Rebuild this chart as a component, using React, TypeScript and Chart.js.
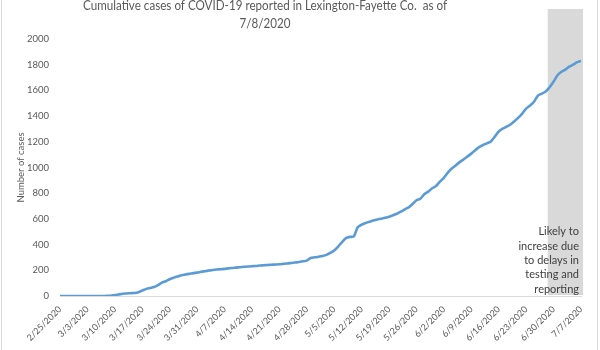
import React, { useEffect, useRef } from "react";
import { Chart, registerables } from "chart.js";

Chart.register(...registerables);

// ---- data ----
const START_DATE = { year: 2020, month: 2, day: 25 }; // first category: 2/25/2020
// cumulative cases, one value per day from 2/25/2020 to 7/7/2020 (rows = weeks)
const CASES: number[] = [
  0, 0, 0, 0, 0, 0, 0,
  0, 0, 0, 0, 0, 1, 1,
  8, 12, 18, 20, 22, 24, 30,
  42, 55, 62, 70, 85, 104, 115,
  130, 142, 152, 162, 168, 172, 178,
  182, 188, 193, 198, 203, 206, 208,
  211, 215, 218, 221, 224, 227, 230,
  232, 234, 237, 239, 241, 243, 245,
  247, 250, 253, 257, 261, 265, 270,
  275, 296, 301, 306, 312, 320, 335,
  355, 385, 420, 450, 460, 463, 535,
  555, 568, 578, 588, 595, 602, 609,
  617, 628, 640, 656, 674, 690, 716,
  745, 757, 792, 812, 838, 856, 890,
  920, 960, 992, 1015, 1042, 1062, 1085,
  1108, 1135, 1158, 1175, 1188, 1203, 1240,
  1280, 1302, 1318, 1335, 1360, 1388, 1420,
  1458, 1482, 1512, 1560, 1575, 1592, 1625,
  1668, 1718, 1745, 1762, 1785, 1800, 1820,
  1830,
];
const Y_MIN = 0;
const Y_MAX = 2000;
const Y_STEP = 200;
const LABEL_EVERY = 7;
const TITLE_LINES = [
  "Cumulative cases of COVID-19 reported in Lexington-Fayette Co.  as of",
  "7/8/2020",
];
const Y_TITLE = "Number of cases";
const NOTE_LINES = ["Likely to", "increase due", "to delays in", "testing and", "reporting"];
const SHADE_FROM = "6/29/2020";

function buildDates(n: number): string[] {
  const out: string[] = [];
  const dt = new Date(Date.UTC(START_DATE.year, START_DATE.month - 1, START_DATE.day));
  for (let i = 0; i < n; i++) {
    out.push(`${dt.getUTCMonth() + 1}/${dt.getUTCDate()}/${dt.getUTCFullYear()}`);
    dt.setUTCDate(dt.getUTCDate() + 1);
  }
  return out;
}
const DATES = buildDates(CASES.length);

const FONT = "Lato, 'Open Sans', sans-serif";
const TEXT = "#595959";

const overlayPlugin = {
  id: "overlay",
  beforeDatasetsDraw(chart: any) {
    const { ctx, chartArea, scales } = chart;
    const x = scales.x;
    const idx = DATES.indexOf(SHADE_FROM);
    const step = x.getPixelForValue(1) - x.getPixelForValue(0);
    const left = x.getPixelForValue(idx) - step * 0.5;
    const top = chartArea.top - 30;
    ctx.save();
    ctx.fillStyle = "#d9d9d9";
    ctx.fillRect(left, top, chartArea.right + 2 - left, chartArea.bottom - 1 - top);
    ctx.restore();
  },
  afterDraw(chart: any) {
    const { ctx, chartArea, width, height } = chart;
    ctx.save();
    // note
    ctx.fillStyle = "#404040";
    ctx.font = `11px ${FONT}`;
    ctx.textAlign = "right";
    ctx.textBaseline = "middle";
    const n = NOTE_LINES.length;
    NOTE_LINES.forEach((t, i) => {
      ctx.fillText(t, chartArea.right - 2, chartArea.bottom - 7 - (n - 1 - i) * 14.3);
    });
    // title (narrowed to the reference's width)
    ctx.fillStyle = TEXT;
    ctx.font = `14px ${FONT}`;
    ctx.textAlign = "center";
    const w0 = ctx.measureText(TITLE_LINES[0]).width;
    const ratio = Math.min(1, 364 / w0);
    TITLE_LINES.forEach((t, i) => {
      const w = ctx.measureText(t).width;
      ctx.fillText(t, 265, 5 + i * 18, w * ratio);
    });
    // frame
    ctx.strokeStyle = "#d9d9d9";
    ctx.lineWidth = 1;
    ctx.beginPath();
    ctx.moveTo(1.5, 0);
    ctx.lineTo(1.5, height);
    ctx.moveTo(width - 2.5, 0);
    ctx.lineTo(width - 2.5, height);
    ctx.stroke();
    ctx.restore();
  },
};

export default function App() {
  const ref = useRef<HTMLCanvasElement | null>(null);
  useEffect(() => {
    if (!ref.current) return;
    const chart = new Chart(ref.current, {
      type: "line",
      data: {
        labels: DATES,
        datasets: [
          {
            data: CASES,
            borderColor: "#5b9bd5",
            borderWidth: 2.6,
            pointRadius: 0,
            tension: 0.2,
            fill: false,
          },
        ],
      },
      options: {
        animation: false,
        responsive: false,
        layout: { padding: { top: 39, right: 19, bottom: 0, left: 0 } },
        plugins: {
          legend: { display: false },
          tooltip: { enabled: false },
          title: { display: false },
        },
        scales: {
          x: {
            type: "category",
            grid: { display: false, drawTicks: false },
            border: { display: true, color: "#d9d9d9", width: 1 },
            ticks: {
              autoSkip: false,
              minRotation: 45,
              maxRotation: 45,
              padding: 8,
              color: TEXT,
              font: { family: FONT, size: 9 },
              callback: (_v: any, i: number) => (i % LABEL_EVERY === 0 ? DATES[i] : null),
            },
            afterFit: (s: any) => {
              s.height = 54;
            },
          },
          y: {
            min: Y_MIN,
            max: Y_MAX,
            grid: { display: false, drawTicks: false },
            border: { display: false },
            ticks: {
              stepSize: Y_STEP,
              padding: 11,
              color: TEXT,
              font: { family: FONT, size: 9.5 },
              callback: (v: any) => String(v),
            },
            title: {
              display: true,
              text: Y_TITLE,
              color: TEXT,
              font: { family: FONT, size: 9.5 },
              padding: { top: 15, bottom: 0 },
            },
            afterFit: (s: any) => {
              s.width = 60;
            },
          },
        },
      },
      plugins: [overlayPlugin],
    });
    return () => chart.destroy();
  }, []);
  return (
    <div style={{ position: "absolute", left: 0, top: 0, width: 600, height: 350, background: "#fff" }}>
      <canvas ref={ref} width={600} height={350} />
    </div>
  );
}
